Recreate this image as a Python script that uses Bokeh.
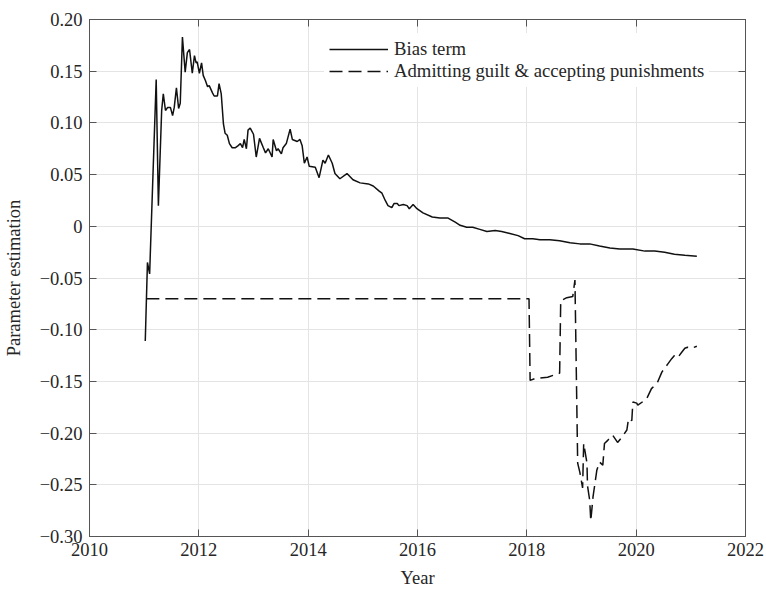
from bokeh.plotting import figure
from bokeh.models import (Range1d, LinearAxis, FixedTicker, CustomJSTickFormatter,
                          Legend, LegendItem)
from bokeh.embed import file_html
from bokeh.resources import INLINE

# ---------------- data ----------------
bias_year = [2011.02, 2011.06, 2011.10, 2011.22, 2011.26, 2011.32, 2011.35, 2011.39, 2011.43, 2011.48,
             2011.52, 2011.55, 2011.59, 2011.63, 2011.66, 2011.70, 2011.75, 2011.79, 2011.83, 2011.88,
             2011.92, 2011.95, 2011.97, 2012.01, 2012.05, 2012.08, 2012.12, 2012.16, 2012.19, 2012.25,
             2012.28, 2012.34, 2012.37, 2012.41, 2012.45, 2012.48, 2012.52, 2012.56, 2012.61, 2012.67,
             2012.72, 2012.76, 2012.80, 2012.83, 2012.87, 2012.90, 2012.94, 2013.00, 2013.05, 2013.11,
             2013.18, 2013.22, 2013.27, 2013.34, 2013.36, 2013.42, 2013.45, 2013.51, 2013.54, 2013.60,
             2013.67, 2013.71, 2013.80, 2013.85, 2013.89, 2013.93, 2013.98, 2014.02, 2014.13, 2014.20,
             2014.27, 2014.31, 2014.37, 2014.44, 2014.49, 2014.58, 2014.71, 2014.82, 2014.95, 2015.10,
             2015.19, 2015.30, 2015.35, 2015.41, 2015.46, 2015.53, 2015.57, 2015.63, 2015.66, 2015.74,
             2015.81, 2015.85, 2015.92, 2015.99, 2016.10, 2016.27, 2016.41, 2016.56, 2016.69, 2016.78,
             2016.90, 2017.01, 2017.14, 2017.27, 2017.42, 2017.54, 2017.69, 2017.84, 2017.96, 2018.11,
             2018.24, 2018.42, 2018.60, 2018.79, 2018.97, 2019.15, 2019.33, 2019.52, 2019.70, 2019.94,
             2020.16, 2020.34, 2020.52, 2020.70, 2020.89, 2021.11]
bias_value = [-0.111, -0.035, -0.046, 0.142, 0.020, 0.112, 0.128, 0.112, 0.115, 0.115,
              0.107, 0.115, 0.134, 0.114, 0.119, 0.183, 0.149, 0.168, 0.171, 0.148,
              0.165, 0.158, 0.159, 0.148, 0.158, 0.146, 0.141, 0.135, 0.136, 0.129,
              0.126, 0.126, 0.138, 0.128, 0.099, 0.090, 0.088, 0.080, 0.076, 0.076,
              0.078, 0.080, 0.076, 0.084, 0.075, 0.093, 0.095, 0.089, 0.067, 0.085,
              0.076, 0.071, 0.075, 0.067, 0.084, 0.073, 0.075, 0.070, 0.076, 0.080,
              0.094, 0.084, 0.082, 0.084, 0.078, 0.061, 0.067, 0.058, 0.057, 0.047,
              0.064, 0.061, 0.069, 0.061, 0.051, 0.046, 0.051, 0.045, 0.042, 0.041,
              0.039, 0.034, 0.032, 0.025, 0.020, 0.018, 0.022, 0.022, 0.020, 0.021,
              0.020, 0.017, 0.021, 0.017, 0.013, 0.009, 0.008, 0.008, 0.004, 0.001,
              -0.001, -0.001, -0.003, -0.005, -0.004, -0.005, -0.007, -0.009, -0.012, -0.012,
              -0.013, -0.013, -0.014, -0.016, -0.017, -0.017, -0.019, -0.021, -0.022, -0.022,
              -0.024, -0.024, -0.025, -0.027, -0.028, -0.029]

guilt_year = [2011.04, 2018.04, 2018.06, 2018.16, 2018.38, 2018.60, 2018.62, 2018.73, 2018.84, 2018.88,
              2018.93, 2018.97, 2019.02, 2019.04, 2019.10, 2019.11, 2019.15, 2019.17, 2019.21, 2019.28,
              2019.33, 2019.39, 2019.42, 2019.48, 2019.57, 2019.66, 2019.74, 2019.83, 2019.86, 2019.92,
              2019.94, 2020.01, 2020.03, 2020.19, 2020.28, 2020.39, 2020.47, 2020.58, 2020.65, 2020.70,
              2020.76, 2020.83, 2020.89, 2020.94, 2021.01, 2021.11]
guilt_value = [-0.070, -0.070, -0.149, -0.147, -0.146, -0.142, -0.072, -0.069, -0.068, -0.052,
               -0.229, -0.238, -0.253, -0.210, -0.229, -0.251, -0.265, -0.285, -0.262, -0.236,
               -0.228, -0.231, -0.210, -0.207, -0.202, -0.209, -0.204, -0.197, -0.186, -0.188,
               -0.170, -0.171, -0.173, -0.167, -0.157, -0.151, -0.141, -0.133, -0.128, -0.125,
               -0.127, -0.122, -0.118, -0.117, -0.118, -0.116]

series_labels = ["Bias term", "Admitting guilt & accepting punishments"]

x_ticks = [2010, 2012, 2014, 2016, 2018, 2020, 2022]
x_tick_labels = ["2010", "2012", "2014", "2016", "2018", "2020", "2022"]
y_ticks = [-0.30, -0.25, -0.20, -0.15, -0.10, -0.05, 0.0, 0.05, 0.10, 0.15, 0.20]
y_tick_labels = ["\u22120.30", "\u22120.25", "\u22120.20", "\u22120.15", "\u22120.10", "\u22120.05",
                 "0", "0.05", "0.10", "0.15", "0.20"]

x_label = "Year"
y_label = "Parameter estimation"

# ---------------- styling ----------------
FONT = "Liberation Serif"
TEXT = "#262626"
AXIS = "#555555"
GRID = "#e4e4e4"
FS = "18.5px"

p = figure(width=766, height=590,
           x_range=Range1d(2010, 2022), y_range=Range1d(-0.30, 0.20),
           output_backend="svg", toolbar_location=None,
           min_border_left=89, min_border_right=21, min_border_top=19, min_border_bottom=54,
           x_axis_label=x_label, y_axis_label=y_label)
p.background_fill_color = "white"
p.border_fill_color = "white"
p.outline_line_color = AXIS

fmt_code = """
for (let i = 0; i < tvals.length; i++) {
  if (Math.abs(tvals[i] - tick) < 1e-9) { return tlabs[i]; }
}
return "";
"""
x_fmt = CustomJSTickFormatter(args=dict(tvals=x_ticks, tlabs=x_tick_labels), code=fmt_code)
y_fmt = CustomJSTickFormatter(args=dict(tvals=y_ticks, tlabs=y_tick_labels), code=fmt_code)


def style_axis(ax):
    ax.axis_line_color = AXIS
    ax.axis_line_width = 1
    ax.major_tick_line_color = AXIS
    ax.major_tick_in = 7
    ax.major_tick_out = 0
    ax.minor_tick_in = 0
    ax.minor_tick_out = 0
    ax.minor_tick_line_color = None
    ax.major_label_text_font = FONT
    ax.major_label_text_font_size = FS
    ax.major_label_text_color = TEXT
    ax.axis_label_text_font = FONT
    ax.axis_label_text_font_size = FS
    ax.axis_label_text_font_style = "normal"
    ax.axis_label_text_color = TEXT


xa = p.xaxis[0]
ya = p.yaxis[0]
style_axis(xa)
style_axis(ya)
xa.ticker = FixedTicker(ticks=x_ticks)
ya.ticker = FixedTicker(ticks=y_ticks)
xa.formatter = x_fmt
ya.formatter = y_fmt
xa.major_label_standoff = 6
xa.axis_label_standoff = 9
ya.major_label_standoff = 7
ya.axis_label_standoff = 13

# tick marks on the top and right edges of the box (no labels)
top = LinearAxis(ticker=FixedTicker(ticks=x_ticks))
right = LinearAxis(ticker=FixedTicker(ticks=y_ticks))
for ax in (top, right):
    style_axis(ax)
    ax.major_label_text_font_size = "0px"
    ax.major_label_text_color = None
    ax.major_label_standoff = 0
    ax.axis_label = None
p.add_layout(top, "above")
p.add_layout(right, "right")

p.xgrid.ticker = FixedTicker(ticks=x_ticks)
p.ygrid.ticker = FixedTicker(ticks=y_ticks)
for g in (p.xgrid[0], p.ygrid[0]):
    g.grid_line_color = GRID
    g.grid_line_width = 1

r1 = p.line(bias_year, bias_value, line_color="#111111", line_width=1.5)
r2 = p.line(guilt_year, guilt_value, line_color="#111111", line_width=1.5, line_dash="13 6")

legend = Legend(items=[LegendItem(label=series_labels[0], renderers=[r1]),
                       LegendItem(label=series_labels[1], renderers=[r2])],
                location=(235, 449))
legend.label_text_font = FONT
legend.label_text_font_size = "18.7px"
legend.label_text_color = TEXT
legend.glyph_width = 59
legend.glyph_height = 20
legend.label_height = 20
legend.label_standoff = 6
legend.spacing = 0
legend.padding = 5
legend.margin = 0
legend.border_line_alpha = 0
legend.background_fill_color = "white"
legend.background_fill_alpha = 1
p.add_layout(legend)

open("out.html", "w").write(file_html(p, INLINE))
